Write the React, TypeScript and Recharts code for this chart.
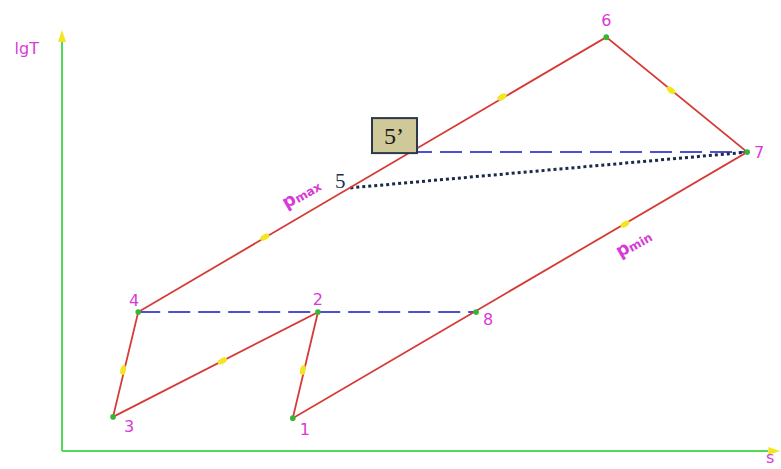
import React from 'react';
import { ComposedChart, XAxis, YAxis, Line, Scatter, ReferenceLine, ReferenceDot } from 'recharts';

// State points of the cycle (s, lgT in arbitrary units)
const stateNames = ['1', '2', '3', '4', '6', '7', '8'];
const stateS = [32.1, 35.6, 7.1, 10.6, 75.7, 95.3, 57.6];
const stateT = [7.8, 33.0, 8.1, 33.0, 98.3, 71.0, 33.0];

// Cycle path order
const cycleOrder = ['3', '4', '6', '7', '1', '2', '3'];

// Intermediate points 5 and 5'
const point5 = { s: 40.1, t: 62.5 };
const point5p = { s: 48.4, t: 71.0 };

// Direction markers (yellow) on the cycle
const markerS = [8.5, 28.2, 61.2, 84.7, 78.3, 33.5, 22.3];
const markerT = [19.2, 50.8, 84.1, 85.7, 53.9, 19.2, 21.4];
const markerAngle = [-77, -30, -30, 39, -30, -77, -27];

// Pressure labels
const pressureLabels = [
  { sub: 'max', s: 33.2, t: 61.4 },
  { sub: 'min', s: 79.4, t: 49.6 },
];

// Axis extents
const axisTop = 98.8;
const axisRight = 99.2;

const MAGENTA = '#d83ad8';
const RED = '#d63a36';
const GREEN = '#55d855';
const DOT_GREEN = '#35b635';
const BLUE = '#4f4fcf';
const YELLOW = '#f2e622';

const labelOffset: Record<string, [number, number]> = {
  '1': [12, 11],
  '2': [0, -13],
  '3': [16, 10],
  '4': [-4, -12],
  '6': [0, -17],
  '7': [12, 0],
  '8': [12, 7],
};

const states = stateNames.map((name, i) => ({ name, s: stateS[i], t: stateT[i] }));
const byName = (n: string) => states.find((p) => p.name === n)!;
const cycleData = cycleOrder.map((n) => ({ s: byName(n).s, t: byName(n).t }));
const markers = markerS.map((s, i) => ({ s, t: markerT[i], angle: markerAngle[i] }));

const StateShape = (props: any) => {
  const { cx, cy, payload } = props;
  const [dx, dy] = labelOffset[payload.name] || [0, 0];
  return (
    <g>
      <circle cx={cx} cy={cy} r={2.8} fill={DOT_GREEN} />
      <text
        x={cx + dx}
        y={cy + dy}
        textAnchor="middle"
        dominantBaseline="central"
        fill={MAGENTA}
        fontFamily="DejaVu Sans, sans-serif"
        fontSize={16}
      >
        {payload.name}
      </text>
    </g>
  );
};

const MarkerShape = (props: any) => {
  const { cx, cy, payload } = props;
  return (
    <ellipse
      cx={cx}
      cy={cy}
      rx={5}
      ry={2.8}
      fill={YELLOW}
      transform={`rotate(${payload.angle}, ${cx}, ${cy})`}
    />
  );
};

const PressureShape = (props: any) => {
  const { cx, cy, payload } = props;
  return (
    <text
      x={cx}
      y={cy}
      textAnchor="middle"
      dominantBaseline="central"
      fill={MAGENTA}
      fontFamily="DejaVu Sans, sans-serif"
      fontWeight="bold"
      transform={`rotate(-30, ${cx}, ${cy})`}
    >
      <tspan fontSize={18}>p</tspan>
      <tspan fontSize={12} dy={4}>{payload.sub}</tspan>
    </text>
  );
};

const Point5Label = (props: any) => {
  const { cx, cy } = props;
  return (
    <text
      x={cx - 10}
      y={cy - 7}
      textAnchor="middle"
      dominantBaseline="central"
      fill="#1e3050"
      fontFamily="Liberation Serif, serif"
      fontSize={21}
    >
      5
    </text>
  );
};

const Point5pLabel = (props: any) => {
  const { cx, cy } = props;
  const bx = cx - 16;
  const by = cy - 17;
  return (
    <g>
      <rect x={bx - 22} y={by - 17} width={45} height={35} fill="#cfc899" stroke="#2a3a4c" strokeWidth={2} />
      <text
        x={bx}
        y={by + 1}
        textAnchor="middle"
        dominantBaseline="central"
        fill="#1a1a1a"
        fontFamily="Liberation Serif, serif"
        fontSize={24}
      >
        5’
      </text>
    </g>
  );
};

const UpArrow = (props: any) => {
  const { cx, cy } = props;
  return <polygon points={`${cx},${cy - 5} ${cx - 4},${cy + 7} ${cx + 4},${cy + 7}`} fill={YELLOW} />;
};
const RightArrow = (props: any) => {
  const { cx, cy } = props;
  return <polygon points={`${cx + 5},${cy} ${cx - 7},${cy - 4} ${cx - 7},${cy + 4}`} fill={YELLOW} />;
};

const AxisLabel = (text: string) => (props: any) => {
  const { cx, cy } = props;
  return (
    <text
      x={cx}
      y={cy}
      textAnchor="middle"
      dominantBaseline="central"
      fill={MAGENTA}
      fontFamily="DejaVu Sans, sans-serif"
      fontSize={16}
    >
      {text}
    </text>
  );
};

export default function App() {
  const p4 = byName('4');
  const p8 = byName('8');
  const p7 = byName('7');
  return (
    <div style={{ position: 'absolute', left: 0, top: 0, width: 781, height: 469, background: '#fff' }}>
      <ComposedChart
        width={781}
        height={469}
        margin={{ top: 0, right: 0, bottom: 18, left: 62 }}
        data={cycleData}
      >
        <XAxis type="number" dataKey="s" domain={[0, 100]} hide allowDataOverflow />
        <YAxis type="number" dataKey="t" domain={[0, 107.13]} hide allowDataOverflow />

        <ReferenceLine segment={[{ x: 0, y: 0 }, { x: 0, y: axisTop - 1.5 }]} stroke={GREEN} strokeWidth={2} ifOverflow="visible" />
        <ReferenceLine segment={[{ x: 0, y: 0 }, { x: axisRight - 1, y: 0 }]} stroke={GREEN} strokeWidth={2} ifOverflow="visible" />
        <ReferenceDot x={0} y={axisTop} r={0} ifOverflow="visible" shape={UpArrow} />
        <ReferenceDot x={axisRight} y={0} r={0} ifOverflow="visible" shape={RightArrow} />
        <ReferenceDot x={-4.9} y={95.5} r={0} ifOverflow="visible" shape={AxisLabel('lgT')} />
        <ReferenceDot x={98.5} y={-1.6} r={0} ifOverflow="visible" shape={AxisLabel('s')} />

        <ReferenceLine
          segment={[{ x: p4.s, y: p4.t }, { x: p8.s, y: p8.t }]}
          stroke={BLUE}
          strokeWidth={2}
          strokeDasharray="22 8"
          ifOverflow="visible"
        />
        <ReferenceLine
          segment={[{ x: point5p.s, y: point5p.t }, { x: p7.s, y: p7.t }]}
          stroke={BLUE}
          strokeWidth={2}
          strokeDasharray="22 8"
          ifOverflow="visible"
        />
        <ReferenceLine
          segment={[{ x: point5.s, y: point5.t }, { x: p7.s, y: p7.t }]}
          stroke="#1b2a48"
          strokeWidth={3}
          strokeDasharray="3 3"
          ifOverflow="visible"
        />

        <Line
          data={cycleData}
          dataKey="t"
          type="linear"
          stroke={RED}
          strokeWidth={1.8}
          dot={false}
          activeDot={false}
          isAnimationActive={false}
        />

        <Scatter data={markers} dataKey="t" shape={MarkerShape} isAnimationActive={false} />
        <Scatter data={states} dataKey="t" shape={StateShape} isAnimationActive={false} />
        <Scatter data={pressureLabels} dataKey="t" shape={PressureShape} isAnimationActive={false} />
        <ReferenceDot x={point5.s} y={point5.t} r={0} ifOverflow="visible" shape={Point5Label} />
        <ReferenceDot x={point5p.s} y={point5p.t} r={0} ifOverflow="visible" shape={Point5pLabel} />
      </ComposedChart>
    </div>
  );
}
